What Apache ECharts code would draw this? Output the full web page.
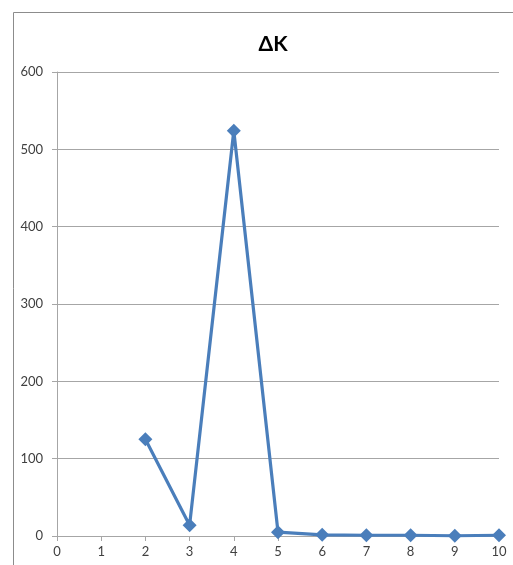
<!DOCTYPE html>
<html>
<head>
<meta charset="utf-8">
<script src="https://cdn.jsdelivr.net/npm/echarts@6/dist/echarts.min.js"></script>
<style>
  html, body { margin: 0; padding: 0; background: #fff; }
  #chart { width: 513px; height: 565px; }
</style>
</head>
<body>
<div id="chart"></div>
<script>
// ΔK values per k
const kValues = [2, 3, 4, 5, 6, 7, 8, 9, 10];
const deltaK = [125, 14, 524, 5, 1.5, 1, 1, 0.3, 1];
const xTicks = [0, 1, 2, 3, 4, 5, 6, 7, 8, 9, 10];
const yTicks = [0, 100, 200, 300, 400, 500, 600];

const chart = echarts.init(document.getElementById('chart'), null, { renderer: 'canvas' });
const labelFont = { color: '#404040', fontFamily: 'Lato, "Liberation Sans", sans-serif', fontSize: 13 };

chart.setOption({
  animation: false,
  backgroundColor: '#fff',
  graphic: [{
    type: 'polyline',
    shape: { points: [[13.5, 565], [13.5, 12.5], [513, 12.5]] },
    style: { stroke: '#8c8c8c', lineWidth: 1, fill: null }
  }],
  title: {
    text: 'ΔK',
    left: 268,
    top: 29,
    textAlign: 'center',
    textStyle: { fontFamily: 'Lato, "Liberation Sans", sans-serif', fontWeight: 'bold', fontSize: 21, color: '#000' }
  },
  grid: { left: 57, right: 14, top: 72, bottom: 29, containLabel: false },
  xAxis: {
    type: 'value',
    min: xTicks[0],
    max: xTicks[xTicks.length - 1],
    interval: 1,
    axisLine: { show: true, lineStyle: { color: '#a6a6a6', width: 1 } },
    axisTick: { show: true, length: 5, lineStyle: { color: '#a6a6a6' } },
    axisLabel: Object.assign({ margin: 9 }, labelFont),
    splitLine: { show: false }
  },
  yAxis: {
    type: 'value',
    min: yTicks[0],
    max: yTicks[yTicks.length - 1],
    interval: 100,
    axisLine: { show: true, lineStyle: { color: '#a6a6a6', width: 1 } },
    axisTick: { show: true, length: 5, lineStyle: { color: '#a6a6a6' } },
    axisLabel: Object.assign({ margin: 14 }, labelFont),
    splitLine: { show: true, lineStyle: { color: '#a6a6a6', width: 1 } }
  },
  series: [{
    type: 'line',
    data: kValues.map((k, i) => [k, deltaK[i]]),
    symbol: 'diamond',
    symbolSize: 14,
    showAllSymbol: true,
    lineStyle: { color: '#4a7ebb', width: 3.2 },
    itemStyle: { color: '#4a7ebb', borderWidth: 0 },
    clip: false
  }]
});
</script>
</body>
</html>
